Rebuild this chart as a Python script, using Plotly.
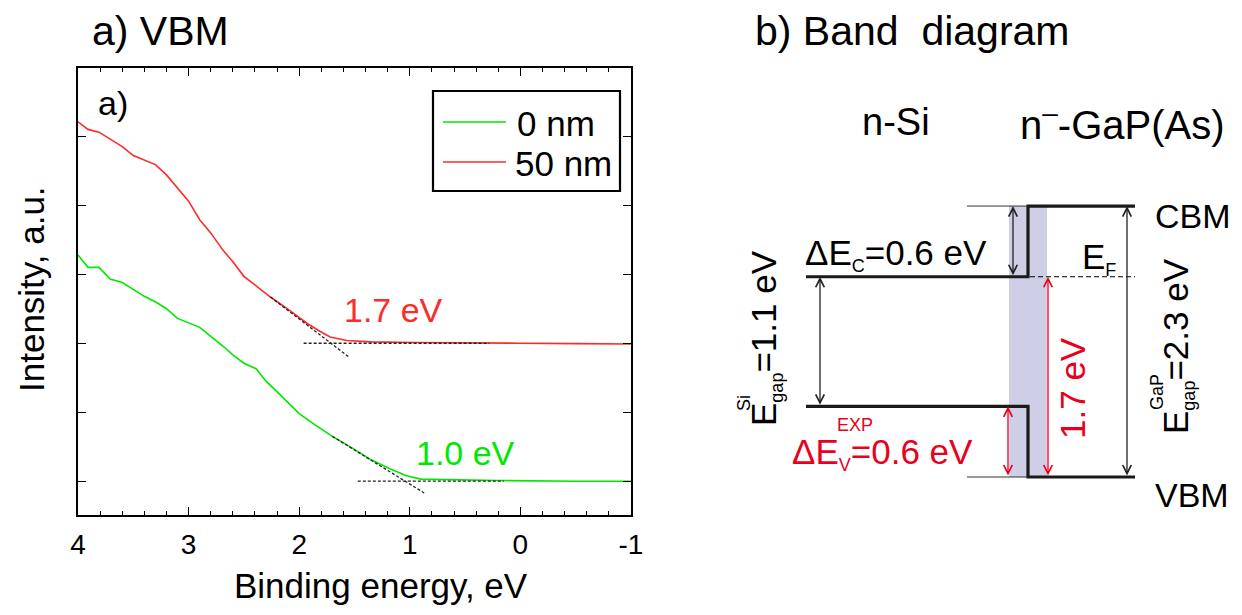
import plotly.graph_objects as go

# ---------------- data: panel a) VBM spectra ----------------
be_0nm = [4.0, 3.91, 3.81, 3.71, 3.60, 3.50, 3.40, 3.29, 3.20, 3.10, 3.0, 2.90, 2.80, 2.69, 2.60,
          2.50, 2.39, 2.30, 2.19, 2.09, 2.0, 1.87, 1.70, 1.53, 1.35, 1.18, 1.03, 0.90, 0.60, 0.2, -0.5, -1.0]
int_0nm = [3.28, 3.10, 3.10, 2.93, 2.88, 2.78, 2.68, 2.59, 2.50, 2.36, 2.29, 2.23, 2.10, 1.96, 1.83,
           1.71, 1.63, 1.45, 1.28, 1.12, 0.98, 0.83, 0.65, 0.49, 0.31, 0.18, 0.08, 0.03, 0.02, 0.01, 0.0, 0.0]
be_50nm = [4.0, 3.91, 3.81, 3.70, 3.60, 3.50, 3.40, 3.30, 3.20, 3.08, 3.0, 2.90, 2.80, 2.69, 2.60,
           2.50, 2.39, 2.26, 2.09, 1.93, 1.81, 1.72, 1.57, 1.35, 0.97, 0.5, 0.0, -0.5, -1.0]
int_50nm = [5.21, 5.10, 5.06, 4.95, 4.85, 4.72, 4.66, 4.59, 4.44, 4.22, 4.06, 3.79, 3.60, 3.35, 3.18,
            2.97, 2.83, 2.67, 2.48, 2.29, 2.17, 2.09, 2.04, 2.02, 2.01, 2.0, 2.0, 1.995, 1.99]
series_names = ["0 nm", "50 nm"]
series_colors = ["#00e800", "#ff2a2a"]

# linear-extrapolation helper lines (onset determination)
tan_50_x = [2.26, 1.55]; tan_50_y = [2.67, 1.80]
base_50_x = [1.96, 0.28]; base_50_y = [2.0, 2.0]
tan_0_x = [1.70, 0.87]; tan_0_y = [0.65, -0.17]
base_0_x = [1.47, 0.15]; base_0_y = [0.0, 0.0]
onset_labels = ["1.0 eV", "1.7 eV"]
onset_label_x = [0.50, 1.15]
onset_label_y = [0.41, 2.48]

x_ticks = [4, 3, 2, 1, 0, -1]
x_tick_text = ["4", "3", "2", "1", "0", "-1"]
y_ticks = [0, 1, 2, 3, 4, 5]

# ---------------- data: panel b) band diagram (energies in eV) ----------------
e_gap_vbm = 0.0
e_si_vbm = 0.6
e_si_cbm = 1.7
e_gap_cbm = 2.3
e_fermi = 1.7

# page is shown with the browser's default 8px body margin: size the figure to fit the window
PAGE_W, PAGE_H, OFF = 1242, 615, 8
W, H = PAGE_W - 2 * OFF, PAGE_H - 2 * OFF
FONT = "Liberation Sans, Arial, sans-serif"
RED = "#e8001c"

# schematic horizontal positions (x2 axis units = window pixels)
SI_L, IFACE, GAP_R = 806, 1028, 1135
SHADE_L, SHADE_R = 1009, 1047
THIN_L = 967
X_DEC, X_SIG, X_DEV, X_17, X_GG = 1013, 820, 1008, 1048, 1127

def px(x):
    return (x - OFF) / W

def py(y):
    return 1 - (y - OFF) / H

def ey(ypix):
    return (477 - ypix) / 117.8

fig = go.Figure()

# spectra
for bx, iy, nm, col in [(be_0nm, int_0nm, series_names[0], series_colors[0]),
                        (be_50nm, int_50nm, series_names[1], series_colors[1])]:
    fig.add_trace(go.Scatter(x=bx, y=iy, mode="lines", name=nm,
                             line=dict(color=col, width=1.6), showlegend=False,
                             xaxis="x", yaxis="y"))
for lx, ly in [(tan_50_x, tan_50_y), (base_50_x, base_50_y), (tan_0_x, tan_0_y), (base_0_x, base_0_y)]:
    fig.add_trace(go.Scatter(x=lx, y=ly, mode="lines", showlegend=False,
                             line=dict(color="#222222", width=1.3, dash="3px,2px"),
                             xaxis="x", yaxis="y"))

# band diagram lines
fig.add_trace(go.Scatter(x=[SI_L, GAP_R], y=[e_fermi, e_fermi], mode="lines", showlegend=False,
                         line=dict(color="black", width=1, dash="5px,3px"), xaxis="x2", yaxis="y2"))
fig.add_trace(go.Scatter(x=[SI_L, IFACE, IFACE, GAP_R], y=[e_si_cbm, e_si_cbm, e_gap_cbm, e_gap_cbm],
                         mode="lines", showlegend=False, line=dict(color="#1a1a1a", width=3.2),
                         xaxis="x2", yaxis="y2"))
fig.add_trace(go.Scatter(x=[SI_L, IFACE, IFACE, GAP_R], y=[e_si_vbm, e_si_vbm, e_gap_vbm, e_gap_vbm],
                         mode="lines", showlegend=False, line=dict(color="#1a1a1a", width=3.2),
                         xaxis="x2", yaxis="y2"))
for lev in [e_gap_cbm, e_gap_vbm]:
    fig.add_trace(go.Scatter(x=[THIN_L, IFACE], y=[lev, lev], mode="lines", showlegend=False,
                             line=dict(color="#333333", width=1), xaxis="x2", yaxis="y2"))

shapes = [
    dict(type="rect", xref="x2", yref="y2", x0=SHADE_L, x1=SHADE_R, y0=e_gap_vbm, y1=e_gap_cbm,
         fillcolor="rgb(206,206,230)", line=dict(width=0), layer="below"),
    # legend box
    dict(type="rect", xref="paper", yref="paper", x0=px(433), x1=px(620), y0=py(191), y1=py(91),
         line=dict(color="black", width=2.2), fillcolor="rgba(0,0,0,0)"),
    dict(type="line", xref="paper", yref="paper", x0=px(443), x1=px(506), y0=py(122), y1=py(122),
         line=dict(color=series_colors[0], width=1.6)),
    dict(type="line", xref="paper", yref="paper", x0=px(443), x1=px(506), y0=py(162), y1=py(162),
         line=dict(color=series_colors[1], width=1.6)),
]

ann = []

def arrow(x, y0, y1, color):
    ann.append(dict(xref="x2", yref="y2", axref="x2", ayref="y2", x=x, y=y1, ax=x, ay=y0,
                    text="", showarrow=True, arrowside="end+start", arrowhead=5, startarrowhead=5,
                    arrowsize=1.3, startarrowsize=1.3, arrowwidth=1.3, arrowcolor=color))

arrow(X_DEC, e_si_cbm, e_gap_cbm, "#222222")
arrow(X_SIG, e_si_vbm, e_si_cbm, "#222222")
arrow(X_DEV, e_gap_vbm, e_si_vbm, RED)
arrow(X_17, e_gap_vbm, e_fermi, RED)
arrow(X_GG, e_gap_vbm, e_gap_cbm, "#222222")

def txt(text, x, y, size=35, color="black", xanchor="center", yanchor="middle", angle=0,
        xref="paper", yref="paper"):
    ann.append(dict(text=text, x=x, y=y, xref=xref, yref=yref, showarrow=False,
                    font=dict(family=FONT, size=size, color=color), xanchor=xanchor,
                    yanchor=yanchor, textangle=angle))

# panel titles and axis titles
txt("a) VBM", px(90), py(31), size=41, xanchor="left")
txt("b) Band\u00a0 diagram", px(753), py(31), size=41, xanchor="left")
txt("Intensity, a.u.", px(31), py(289), size=35, angle=-90)
txt("Binding energy, eV", px(381), py(585), size=35)
txt("a)", px(113), py(103), size=34)
# legend texts
txt(series_names[0], px(515), py(123), size=35, xanchor="left")
txt(series_names[1], px(513), py(163), size=35, xanchor="left")
# onset labels
txt(onset_labels[0], onset_label_x[0], onset_label_y[0], size=34, color=series_colors[0], xref="x", yref="y")
txt(onset_labels[1], onset_label_x[1], onset_label_y[1], size=34, color=series_colors[1], xref="x", yref="y")

# band diagram texts
txt("n-Si", 896, ey(122), size=38, xref="x2", yref="y2")
txt("n<sup>\u2013</sup>-GaP(As)", 1122, ey(122), size=40, xref="x2", yref="y2")
txt("CBM", 1153, ey(216), size=34, xanchor="left", xref="x2", yref="y2")
txt("VBM", 1153, ey(495), size=34, xanchor="left", xref="x2", yref="y2")
txt("\u0394E<sub><span style='font-size:18px'>C</span></sub>=0.6 eV", 803, ey(254), size=35,
    xanchor="left", xref="x2", yref="y2")
txt("E<sub><span style='font-size:18px'>F</span></sub>", 1080, ey(258), size=35,
    xanchor="left", xref="x2", yref="y2")
txt("\u0394E<sub><span style='font-size:18px'>V</span></sub>=0.6 eV", 790, ey(453), size=35,
    color=RED, xanchor="left", xref="x2", yref="y2")
txt("EXP", 855, ey(425), size=18, color=RED, xref="x2", yref="y2")
txt("E<sub><span style='font-size:18px'>gap</span></sub>=1.1 eV", 765, ey(338), size=35, angle=-90,
    xref="x2", yref="y2")
txt("Si", 744, ey(403), size=18, angle=-90, xref="x2", yref="y2")
txt("E<sub><span style='font-size:18px'>gap</span></sub>=2.3 eV", 1177, ey(346), size=35, angle=-90,
    xref="x2", yref="y2")
txt("GaP", 1157, ey(392), size=18, angle=-90, xref="x2", yref="y2")
txt("1.7 eV", 1072, ey(388), size=35, color=RED, angle=-90, xref="x2", yref="y2")

axis_common = dict(showgrid=False, zeroline=False, showline=True, linecolor="black", linewidth=1.5,
                   mirror="ticks", ticks="inside", ticklen=8, tickwidth=1.3, tickcolor="black")

fig.update_layout(
    width=W, height=H,
    margin=dict(l=0, r=0, t=0, b=0, autoexpand=False),
    paper_bgcolor="white", plot_bgcolor="rgba(0,0,0,0)",
    font=dict(family=FONT, color="black"),
    showlegend=False,
    xaxis=dict(domain=[px(78), px(631)], range=[4, -1], tickvals=x_ticks, ticktext=x_tick_text,
               tickfont=dict(size=28, family=FONT), ticklabelstandoff=4, automargin=False,
               minor=dict(dtick=0.2, ticks="inside", ticklen=4, tickcolor="black", tickwidth=1.2),
               anchor="y", **axis_common),
    yaxis=dict(domain=[py(515), py(68)], range=[-0.49, 5.99], tickvals=y_ticks,
               showticklabels=False, anchor="x", automargin=False, **axis_common),
    xaxis2=dict(domain=[0, 1], range=[OFF, OFF + W], visible=False, anchor="y2", fixedrange=True),
    yaxis2=dict(domain=[0, 1], range=[ey(OFF + H), ey(OFF)], visible=False, anchor="x2",
                fixedrange=True),
    shapes=shapes,
    annotations=ann,
)

fig.write_html("out.html")
